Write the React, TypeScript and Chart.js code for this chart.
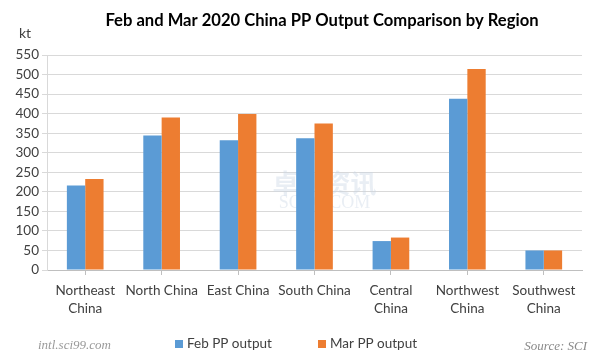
import React, { useEffect, useRef } from "react";
import { Chart, registerables } from "chart.js";

Chart.register(...registerables);

const categories: string[][] = [
  ["Northeast", "China"],
  ["North China"],
  ["East China"],
  ["South China"],
  ["Central", "China"],
  ["Northwest", "China"],
  ["Southwest", "China"],
];
const febOutput = [216, 344, 332, 337, 74, 438, 50];
const marOutput = [233, 390, 399, 375, 83, 514, 50];
const seriesLabels = ["Feb PP output", "Mar PP output"];
const seriesColors = ["#5B9BD5", "#ED7D31"];
const yMin = 0;
const yMax = 550;
const yStep = 50;
const titleText = "Feb and Mar 2020 China PP Output Comparison by Region";
const unitText = "kt";
const sourceText = "Source: SCI";
const siteText = "intl.sci99.com";

const FONT = "Lato, 'Open Sans', sans-serif";

const decorPlugin = {
  id: "decor",
  beforeDatasetsDraw(chart: any) {
    const ctx = chart.ctx;
    const ca = chart.chartArea;
    ctx.save();
    const cx = (ca.left + ca.right) / 2 + 10;
    ctx.textAlign = "center";
    ctx.textBaseline = "middle";
    ctx.fillStyle = "rgba(200,212,228,0.4)";
    ctx.font = `bold 26px 'Noto Sans CJK SC', sans-serif`;
    ctx.fillText("卓创资讯", cx, 183);
    ctx.font = `18px 'Liberation Serif', serif`;
    ctx.fillText("SCI99.COM", cx, 203);
    ctx.restore();
  },
  afterDraw(chart: any) {
    const ctx = chart.ctx;
    ctx.save();
    ctx.textBaseline = "middle";
    ctx.fillStyle = "#000000";
    ctx.textAlign = "center";
    ctx.font = `bold 16.6px ${FONT}`;
    ctx.fillText(titleText, 322, 21);
    ctx.fillStyle = "#404040";
    ctx.font = `14px ${FONT}`;
    ctx.fillText(unitText, 25, 33);
    const ds = chart.data.datasets;
    const legendX = [175, 318];
    ctx.textAlign = "left";
    ds.forEach((d: any, i: number) => {
      ctx.fillStyle = d.backgroundColor;
      ctx.fillRect(legendX[i], 340, 8, 8);
      ctx.fillStyle = "#404040";
      ctx.font = `13.5px ${FONT}`;
      ctx.fillText(d.label, legendX[i] + 12, 344);
    });
    ctx.fillStyle = "#8a8a8a";
    ctx.font = `italic 13px 'Liberation Serif', serif`;
    ctx.textAlign = "right";
    ctx.fillText(sourceText, 587, 347);
    ctx.textAlign = "left";
    ctx.fillStyle = "#9a9a9a";
    ctx.fillText(siteText, 38, 346);
    ctx.restore();
  },
};

export default function App() {
  const canvasRef = useRef<HTMLCanvasElement | null>(null);

  useEffect(() => {
    if (!canvasRef.current) return;
    const chart = new Chart(canvasRef.current, {
      type: "bar",
      data: {
        labels: categories,
        datasets: [
          {
            label: seriesLabels[0],
            data: febOutput,
            backgroundColor: seriesColors[0],
            barPercentage: 1,
            categoryPercentage: 0.48,
          },
          {
            label: seriesLabels[1],
            data: marOutput,
            backgroundColor: seriesColors[1],
            barPercentage: 1,
            categoryPercentage: 0.48,
          },
        ],
      },
      options: {
        animation: false,
        responsive: false,
        layout: { padding: { top: 55, right: 23, left: 0, bottom: 0 } },
        plugins: {
          legend: { display: false },
          title: { display: false },
          tooltip: { enabled: false },
        },
        scales: {
          x: {
            grid: {
              drawOnChartArea: false,
              drawTicks: true,
              offset: false,
              tickLength: 5,
              color: "#BFBFBF",
            },
            border: { color: "#BFBFBF" },
            ticks: {
              color: "#404040",
              font: { family: FONT, size: 13.5, lineHeight: 1.33 },
              padding: 7,
              maxRotation: 0,
              autoSkip: false,
            },
            afterFit: (s: any) => {
              s.height = 94;
            },
          },
          y: {
            min: yMin,
            max: yMax,
            ticks: {
              stepSize: yStep,
              color: "#404040",
              font: { family: FONT, size: 13.5 },
              padding: 3,
            },
            grid: { color: "#D9D9D9", tickLength: 5 },
            border: { color: "#D9D9D9" },
            afterFit: (s: any) => {
              s.width = 47;
            },
          },
        },
      },
      plugins: [decorPlugin],
    });
    return () => chart.destroy();
  }, []);

  return (
    <div style={{ position: "absolute", left: 0, top: 0, width: 605, height: 364, background: "#fff" }}>
      <canvas ref={canvasRef} width={605} height={364} />
    </div>
  );
}
